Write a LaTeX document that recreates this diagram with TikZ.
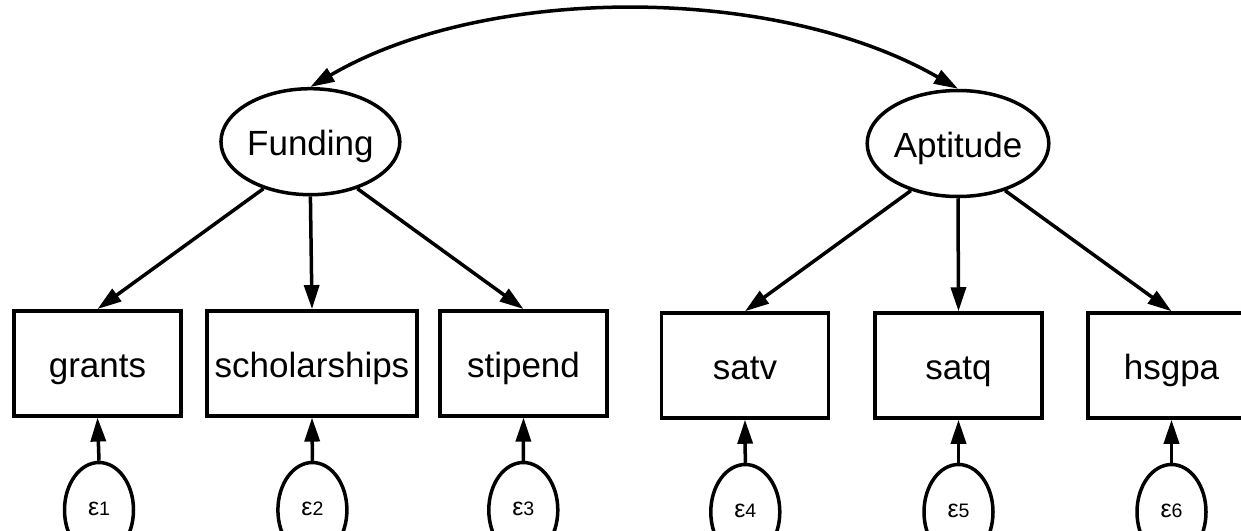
\documentclass[tikz,border=0pt]{standalone}
\usepackage{fontspec}
\setmainfont{Liberation Sans}
\usetikzlibrary{arrows.meta,shapes.geometric}
% error-term label: epsilon with a smaller index digit
\newcommand\epslab[1]{ε{\fontsize{19.5}{22}\selectfont #1}}
\begin{document}
\begin{tikzpicture}[x=1pt,y=-1pt,
  line width=3.5pt,
  every node/.style={font=\fontsize{35}{40}\selectfont},
  latent/.style={draw, ellipse, fill=white, minimum width=167pt, minimum height=106pt,
    inner sep=0pt, text height=28pt, text depth=0pt},
  observed/.style={draw, rectangle, fill=white, minimum width=167pt, minimum height=105pt,
    inner sep=0pt, text height=28pt, text depth=0pt},
  errterm/.style={draw, ellipse, fill=white, minimum width=69pt, minimum height=95pt,
    inner sep=0pt, text height=10pt, text depth=0pt, font=\fontsize{25}{30}\selectfont},
  tip/.tip={Triangle[length=24pt,width=15pt]},
  load/.style={-tip},
  cov/.style={tip-tip},
]
\useasboundingbox (0,0) rectangle (1241,530);
\fill[white] (0,0) rectangle (1241,530);
\clip (0,0) rectangle (1241,530);

% latent factors
\node[latent] (fund) at (310.4,141.7) {Funding};
\node[latent] (apt)  at (958,143.5)   {Aptitude};

% observed indicators
\node[observed] (grants) at (97.5,363.3) {grants};
\node[observed, minimum width=210pt] (schol) at (312,363.3) {scholarships};
\node[observed] (stip)  at (523.5,363.3) {stipend};
\node[observed] (satv)  at (745,365.5)   {satv};
\node[observed] (satq)  at (958.5,365.5) {satq};
\node[observed] (hsgpa) at (1171.5,365.5) {hsgpa};

% error terms
\node[errterm] (e1) at (99,510)     {\epslab{1}};
\node[errterm] (e2) at (312.4,510)  {\epslab{2}};
\node[errterm] (e3) at (523.3,510)  {\epslab{3}};
\node[errterm] (e4) at (745.3,512)  {\epslab{4}};
\node[errterm] (e5) at (958.5,512)  {\epslab{5}};
\node[errterm] (e6) at (1171.5,512) {\epslab{6}};

% factor loadings
\draw[load] (fund.225)   -- (grants.north);
\draw[load] (fund.south) -- (schol.north);
\draw[load] (fund.315)   -- (stip.north);
\draw[load] (apt.225)    -- (satv.north);
\draw[load] (apt.south)  -- (satq.north);
\draw[load] (apt.315)    -- (hsgpa.north);

% error paths
\draw[load] (e1.north) -- (grants.south);
\draw[load] (e2.north) -- (schol.south);
\draw[load] (e3.north) -- (stip.south);
\draw[load] (e4.north) -- (satv.south);
\draw[load] (e5.north) -- (satq.south);
\draw[load] (e6.north) -- (hsgpa.south);

% factor covariance
\draw[cov] (fund.north) .. controls (486,-16) and (776,-16) .. (apt.north);
\end{tikzpicture}
\end{document}
